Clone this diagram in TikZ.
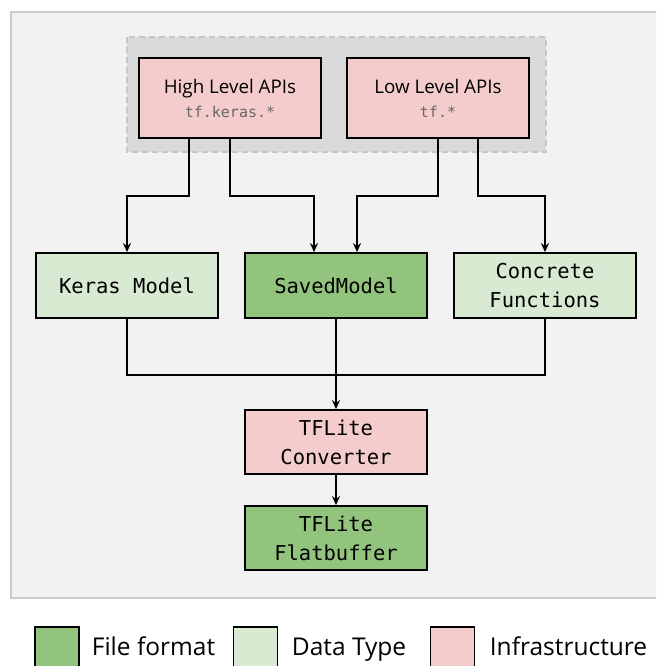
\documentclass[tikz,border=0pt]{standalone}
\usepackage{fontspec}
\setsansfont{Open Sans}
\setmonofont{DejaVu Sans Mono}
\usetikzlibrary{arrows.meta}
\definecolor{fileformat}{HTML}{93C47D}
\definecolor{datatype}{HTML}{D9EAD3}
\definecolor{infra}{HTML}{F4CCCC}
\definecolor{panel}{HTML}{F2F2F2}
\definecolor{panelline}{HTML}{CCCCCC}
\definecolor{group}{HTML}{D9D9D9}
\definecolor{groupline}{HTML}{C6C6C6}
\begin{document}
\begin{tikzpicture}[x=1pt, y=-1pt, line width=1.8pt, >={Stealth[length=9pt,width=8pt,inset=3pt]},
 box/.style={draw, minimum width=182pt, inner sep=0pt, align=center, font=\fontsize{20.5}{29}\selectfont\ttfamily},
 api/.style={box, fill=infra, minimum height=80pt, font=\sffamily\fontsize{18.8}{24}\selectfont},
 legbox/.style={draw, minimum width=44pt, minimum height=46pt, inner sep=0pt},
 legtext/.style={anchor=base west, inner sep=0pt, font=\sffamily\fontsize{24.5}{30}\selectfont}]
 \useasboundingbox (0,0) rectangle (656,666);
 \clip (0,0) rectangle (656,666);
 % background panel and api group
 \draw[draw=panelline, fill=panel, line width=1.5pt] (11,12) rectangle (690,598);
 \draw[draw=groupline, fill=group, line width=1.5pt, dash pattern=on 6pt off 4pt] (127,37) rectangle (546,152);
 \node[api] (high) at (230,98) {High Level APIs\\{\color{gray!80!black}\fontsize{15}{24}\selectfont\ttfamily tf.keras.*}};
 \node[api] (low) at (438,98) {Low Level APIs\\{\color{gray!80!black}\fontsize{15}{24}\selectfont\ttfamily tf.*}};
 % models
 \node[box, fill=datatype, minimum height=65pt] (keras) at (127,285.5) {Keras Model};
 \node[box, fill=fileformat, minimum height=65pt] (saved) at (336,285.5) {SavedModel};
 \node[box, fill=datatype, minimum height=65pt] (concrete) at (545,285.5) {Concrete\\Functions};
 \node[box, fill=infra, minimum height=64pt] (conv) at (336,442) {TFLite\\Converter};
 \node[box, fill=fileformat, minimum height=64pt] (flat) at (336,538) {TFLite\\Flatbuffer};
 % connectors
 \draw[->] ([xshift=-41pt]high.south) -- ++(0,57) -| (keras.north);
 \draw[->] (high.south) -- ++(0,57) -| ([xshift=-22pt]saved.north);
 \draw[->] (low.south) -- ++(0,57) -| ([xshift=21pt]saved.north);
 \draw[->] ([xshift=40pt]low.south) -- ++(0,57) -| (concrete.north);
 \draw (keras.south) -- ++(0,56) -| (concrete.south);
 \draw[->] (saved.south) -- (conv.north);
 \draw[->] (conv.south) -- (flat.north);
 % legend
 \node[legbox, fill=fileformat] (lgfile) at (57,650) {};
 \node[legtext] (txfile) at (91,655) {File format};
 \node[legbox, fill=datatype] (lgdata) at (255.5,650) {};
 \node[legtext] (txdata) at (291,655) {Data Type};
 \node[legbox, fill=infra] (lginfra) at (452.5,650) {};
 \node[legtext] (txinfra) at (489,655) {Infrastructure};
\end{tikzpicture}
\end{document}
